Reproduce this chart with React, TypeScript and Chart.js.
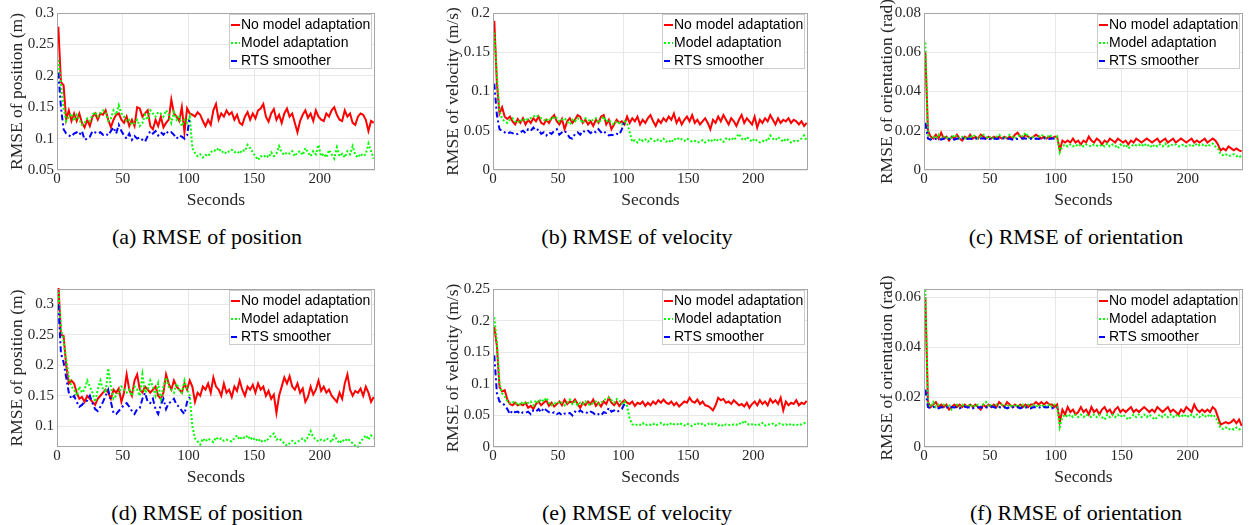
import { useEffect, useRef } from 'react';
import { Chart, registerables } from 'chart.js';

Chart.register(...registerables);

// ---------- DATA ----------
const T = [
  1, 3, 5, 7, 9, 11, 13, 15, 17, 19,
  21, 23, 25, 27, 29, 31, 33, 35, 37, 39,
  41, 43, 45, 47, 49, 51, 53, 55, 57, 59,
  61, 63, 65, 67, 69, 71, 73, 75, 77, 79,
  81, 83, 85, 87, 89, 91, 93, 95, 97, 99,
  101, 103, 105, 107, 109, 111, 113, 115, 117, 119,
  121, 123, 125, 127, 129, 131, 133, 135, 137, 139,
  141, 143, 145, 147, 149, 151, 153, 155, 157, 159,
  161, 163, 165, 167, 169, 171, 173, 175, 177, 179,
  181, 183, 185, 187, 189, 191, 193, 195, 197, 199,
  201, 203, 205, 207, 209, 211, 213, 215, 217, 219,
  221, 223, 225, 227, 229, 231, 233, 235, 237, 239,
  241,
];
const X_TICKS = [0, 50, 100, 150, 200];
const SERIES_LABELS = ['No model adaptation', 'Model adaptation', 'RTS smoother'];

// (a) position, run 1
const RED_A = [
  0.278, 0.19, 0.185, 0.13, 0.145, 0.128, 0.14, 0.128, 0.14, 0.125,
  0.118, 0.13, 0.12, 0.135, 0.14, 0.13, 0.14, 0.138, 0.145, 0.13,
  0.118, 0.13, 0.138, 0.14, 0.13, 0.125, 0.135, 0.12, 0.13, 0.12,
  0.15, 0.148, 0.135, 0.14, 0.145, 0.12, 0.115, 0.13, 0.12, 0.135,
  0.118, 0.125, 0.13, 0.162, 0.14, 0.135, 0.128, 0.15, 0.11, 0.148,
  0.14, 0.138, 0.135, 0.142, 0.138, 0.128, 0.12, 0.13, 0.122, 0.145,
  0.155, 0.13, 0.14, 0.135, 0.145, 0.138, 0.142, 0.13, 0.138, 0.125,
  0.122, 0.135, 0.142, 0.13, 0.14, 0.132, 0.145, 0.148, 0.155, 0.135,
  0.127, 0.14, 0.147, 0.13, 0.138, 0.125, 0.14, 0.148, 0.135, 0.14,
  0.125, 0.11, 0.128, 0.138, 0.145, 0.133, 0.14, 0.128, 0.145, 0.135,
  0.13, 0.128, 0.14, 0.135, 0.145, 0.15, 0.138, 0.13, 0.128, 0.145,
  0.135, 0.14, 0.125, 0.122, 0.135, 0.14, 0.138, 0.13, 0.112, 0.128,
  0.125,
];
const GREEN_A = [
  0.225, 0.185, 0.15, 0.128, 0.135, 0.14, 0.128, 0.138, 0.13, 0.122,
  0.125, 0.132, 0.128, 0.138, 0.142, 0.135, 0.14, 0.145, 0.142, 0.128,
  0.132, 0.145, 0.138, 0.153, 0.14, 0.135, 0.128, 0.13, 0.122, 0.125,
  0.13, 0.12, 0.125, 0.138, 0.13, 0.145, 0.14, 0.135, 0.142, 0.14,
  0.135, 0.145, 0.138, 0.125, 0.142, 0.13, 0.135, 0.12, 0.13, 0.125,
  0.135, 0.085, 0.077, 0.072, 0.075, 0.07, 0.074, 0.072, 0.078, 0.082,
  0.08, 0.085, 0.078, 0.08, 0.076, 0.08, 0.082, 0.078, 0.08, 0.076,
  0.082, 0.08, 0.09, 0.085, 0.078, 0.072, 0.066, 0.072, 0.07, 0.074,
  0.07, 0.078, 0.072, 0.076, 0.088, 0.078, 0.074, 0.078, 0.076, 0.08,
  0.072, 0.078, 0.08, 0.074, 0.085, 0.078, 0.072, 0.08, 0.075, 0.09,
  0.072, 0.076, 0.07, 0.082, 0.075, 0.068, 0.086, 0.072, 0.076, 0.07,
  0.08, 0.075, 0.088, 0.074, 0.07, 0.076, 0.072, 0.075, 0.092, 0.08,
  0.068,
];
const BLUE_A = [
  0.205, 0.15, 0.115, 0.108, 0.105, 0.103, 0.108, 0.11, 0.106, 0.112,
  0.098, 0.1, 0.103, 0.112, 0.11, 0.108, 0.11, 0.106, 0.108, 0.105,
  0.112, 0.118, 0.108, 0.122, 0.112, 0.105, 0.1, 0.108, 0.098, 0.104,
  0.1, 0.102, 0.098, 0.095, 0.104, 0.112, 0.108, 0.112, 0.105, 0.11,
  0.106, 0.112, 0.108, 0.11, 0.106, 0.1, 0.105, 0.103, 0.1, 0.105,
  0.135,
];

// (b) velocity, run 1
const RED_B = [
  0.19, 0.11, 0.072, 0.08, 0.068, 0.065, 0.068, 0.062, 0.058, 0.065,
  0.06, 0.066, 0.058, 0.064, 0.06, 0.066, 0.062, 0.068, 0.06, 0.058,
  0.064, 0.06, 0.066, 0.07, 0.062, 0.058, 0.065, 0.052, 0.062, 0.066,
  0.06, 0.064, 0.07, 0.068, 0.06, 0.064, 0.058, 0.062, 0.056, 0.064,
  0.06, 0.068, 0.07, 0.058, 0.064, 0.052, 0.058, 0.064, 0.06, 0.062,
  0.058, 0.068, 0.06, 0.066, 0.062, 0.068, 0.058, 0.064, 0.06, 0.066,
  0.07, 0.062, 0.056, 0.064, 0.06, 0.066, 0.062, 0.068, 0.064, 0.072,
  0.06, 0.066, 0.058, 0.064, 0.068, 0.062, 0.07, 0.06, 0.064, 0.058,
  0.062, 0.066, 0.06, 0.052, 0.064, 0.06, 0.068, 0.062, 0.07, 0.064,
  0.058, 0.066, 0.062, 0.056, 0.064, 0.07, 0.06, 0.066, 0.062, 0.058,
  0.068, 0.054, 0.064, 0.06, 0.066, 0.062, 0.07, 0.064, 0.058, 0.066,
  0.06, 0.064, 0.062, 0.066, 0.06, 0.064, 0.062, 0.058, 0.062, 0.056,
  0.06,
];
const GREEN_B = [
  0.175, 0.12, 0.075, 0.065, 0.062, 0.06, 0.064, 0.066, 0.062, 0.06,
  0.064, 0.062, 0.066, 0.064, 0.066, 0.068, 0.07, 0.068, 0.066, 0.064,
  0.062, 0.066, 0.064, 0.068, 0.066, 0.062, 0.064, 0.066, 0.062, 0.058,
  0.064, 0.062, 0.066, 0.064, 0.06, 0.066, 0.064, 0.062, 0.064, 0.066,
  0.06, 0.064, 0.068, 0.062, 0.064, 0.06, 0.058, 0.062, 0.06, 0.058,
  0.062, 0.06, 0.048, 0.036, 0.038, 0.035, 0.04, 0.037, 0.039, 0.036,
  0.04, 0.038, 0.036, 0.039, 0.037, 0.04, 0.036, 0.038, 0.035, 0.04,
  0.038, 0.041, 0.039, 0.037, 0.04, 0.038, 0.036, 0.037, 0.035, 0.036,
  0.038, 0.035, 0.037, 0.039, 0.036, 0.04, 0.037, 0.039, 0.036, 0.04,
  0.038, 0.041, 0.038, 0.042, 0.046, 0.04, 0.038, 0.042, 0.039, 0.036,
  0.04, 0.037, 0.035, 0.036, 0.039, 0.037, 0.044, 0.04, 0.038, 0.042,
  0.039, 0.036, 0.04, 0.038, 0.035, 0.037, 0.036, 0.038, 0.04, 0.044,
  0.037,
];
const BLUE_B = [
  0.11, 0.07, 0.052, 0.05, 0.048, 0.046, 0.048, 0.047, 0.045, 0.046,
  0.048, 0.05, 0.047, 0.052, 0.05, 0.054, 0.05, 0.052, 0.046, 0.048,
  0.044, 0.048, 0.046, 0.05, 0.052, 0.045, 0.048, 0.05, 0.046, 0.041,
  0.04, 0.046, 0.048, 0.045, 0.05, 0.048, 0.05, 0.047, 0.05, 0.048,
  0.052, 0.048, 0.05, 0.046, 0.044, 0.045, 0.044, 0.046, 0.045, 0.052,
  0.062,
];

// (c) orientation, run 1
const RED_C = [
  0.06, 0.02, 0.017, 0.016, 0.018, 0.016, 0.019, 0.016, 0.017, 0.015,
  0.017, 0.016, 0.018, 0.016, 0.015, 0.017, 0.016, 0.018, 0.016, 0.017,
  0.016, 0.018, 0.017, 0.016, 0.017, 0.016, 0.017, 0.016, 0.017, 0.016,
  0.017, 0.016, 0.017, 0.016, 0.018, 0.019, 0.017, 0.016, 0.018, 0.017,
  0.016, 0.017, 0.018, 0.017, 0.016, 0.017, 0.016, 0.017, 0.016, 0.017,
  0.017, 0.01, 0.015, 0.014, 0.015, 0.014, 0.016, 0.014, 0.015, 0.013,
  0.015, 0.014, 0.017, 0.015, 0.014, 0.016, 0.015, 0.013, 0.015, 0.014,
  0.016, 0.015, 0.014, 0.016, 0.015, 0.014, 0.015, 0.013, 0.015, 0.014,
  0.016, 0.015, 0.014, 0.015, 0.016, 0.015, 0.014, 0.015, 0.016, 0.014,
  0.015, 0.016, 0.014, 0.015, 0.016, 0.014, 0.015, 0.016, 0.015, 0.014,
  0.015, 0.016, 0.014, 0.015, 0.014, 0.015, 0.016, 0.014, 0.015, 0.016,
  0.015, 0.013, 0.01, 0.011, 0.01, 0.012, 0.011, 0.01, 0.011, 0.01,
  0.0095,
];
const GREEN_C = [
  0.065, 0.018, 0.016, 0.017, 0.016, 0.018, 0.016, 0.017, 0.016, 0.017,
  0.016, 0.018, 0.017, 0.016, 0.017, 0.016, 0.017, 0.016, 0.018, 0.017,
  0.016, 0.017, 0.018, 0.017, 0.016, 0.017, 0.016, 0.017, 0.018, 0.017,
  0.016, 0.017, 0.018, 0.017, 0.016, 0.017, 0.018, 0.017, 0.019, 0.017,
  0.016, 0.017, 0.016, 0.017, 0.018, 0.017, 0.016, 0.018, 0.017, 0.016,
  0.017, 0.009, 0.012, 0.013, 0.012, 0.013, 0.012, 0.013, 0.012, 0.013,
  0.012, 0.013, 0.0125, 0.012, 0.013, 0.0125, 0.012, 0.013, 0.012, 0.0135,
  0.012, 0.013, 0.0125, 0.011, 0.013, 0.012, 0.013, 0.011, 0.012, 0.013,
  0.0125, 0.013, 0.012, 0.0135, 0.012, 0.013, 0.0115, 0.013, 0.012, 0.013,
  0.012, 0.0135, 0.012, 0.013, 0.0125, 0.013, 0.012, 0.0125, 0.013, 0.012,
  0.0125, 0.013, 0.012, 0.0135, 0.0125, 0.013, 0.012, 0.013, 0.0125, 0.0135,
  0.012, 0.011, 0.008, 0.0075, 0.008, 0.007, 0.0075, 0.008, 0.007, 0.0075,
  0.006,
];
const BLUE_C = [
  0.024, 0.016, 0.0155, 0.016, 0.0158, 0.016, 0.0155, 0.016, 0.0162, 0.0158,
  0.016, 0.0155, 0.016, 0.0158, 0.016, 0.0162, 0.0158, 0.016, 0.0155, 0.016,
  0.0158, 0.016, 0.0162, 0.0158, 0.016, 0.0155, 0.016, 0.0158, 0.016, 0.0162,
  0.016, 0.0158, 0.016, 0.0155, 0.016, 0.0158, 0.016, 0.0162, 0.016, 0.0158,
  0.016, 0.0155, 0.016, 0.0158, 0.016, 0.0162, 0.016, 0.0158, 0.016, 0.016,
  0.016,
];

// (d) position, run 2
const RED_D = [
  0.335, 0.25, 0.248, 0.2, 0.17, 0.175, 0.17, 0.155, 0.145, 0.148,
  0.14, 0.15, 0.145, 0.14, 0.135, 0.145, 0.15, 0.155, 0.16, 0.155,
  0.145, 0.16, 0.155, 0.162, 0.14, 0.155, 0.185, 0.16, 0.15, 0.175,
  0.185, 0.16, 0.155, 0.165, 0.16, 0.155, 0.16, 0.165, 0.15, 0.145,
  0.155, 0.185, 0.17, 0.16, 0.175, 0.165, 0.16, 0.155, 0.17, 0.16,
  0.175, 0.165, 0.14, 0.155, 0.15, 0.165, 0.16, 0.17, 0.155, 0.18,
  0.165, 0.16, 0.15, 0.17, 0.155, 0.16, 0.148, 0.165, 0.158, 0.175,
  0.16, 0.15, 0.165, 0.16, 0.168, 0.155, 0.17, 0.16, 0.165, 0.15,
  0.158, 0.145, 0.152, 0.122, 0.15, 0.165, 0.18, 0.17, 0.182, 0.165,
  0.16, 0.17, 0.155, 0.162, 0.14, 0.148, 0.165, 0.152, 0.16, 0.175,
  0.158, 0.165, 0.155, 0.16, 0.15, 0.145, 0.14, 0.155, 0.145, 0.17,
  0.185, 0.16, 0.15, 0.158, 0.155, 0.162, 0.15, 0.165, 0.155, 0.14,
  0.148,
];
const GREEN_D = [
  0.32, 0.26, 0.24, 0.21, 0.18, 0.165, 0.16, 0.15, 0.165, 0.155,
  0.16, 0.175, 0.165, 0.155, 0.14, 0.16, 0.175, 0.16, 0.155, 0.195,
  0.165, 0.145, 0.15, 0.155, 0.165, 0.16, 0.155, 0.16, 0.15, 0.165,
  0.16, 0.15, 0.185, 0.155, 0.16, 0.175, 0.165, 0.15, 0.17, 0.145,
  0.165, 0.18, 0.165, 0.16, 0.155, 0.17, 0.16, 0.155, 0.175, 0.16,
  0.15, 0.1, 0.08, 0.075, 0.07, 0.08, 0.075, 0.08, 0.077, 0.074,
  0.082, 0.078, 0.08, 0.076, 0.078, 0.076, 0.075, 0.08, 0.085, 0.078,
  0.083, 0.08, 0.085, 0.078, 0.082, 0.076, 0.08, 0.074, 0.078, 0.075,
  0.08, 0.085, 0.088, 0.078, 0.08, 0.076, 0.072, 0.068, 0.072, 0.076,
  0.072, 0.074, 0.078, 0.08, 0.076, 0.082, 0.092, 0.082, 0.078, 0.075,
  0.078, 0.076, 0.08, 0.078, 0.074, 0.085, 0.078, 0.072, 0.078, 0.075,
  0.08, 0.076, 0.072, 0.068, 0.066, 0.075, 0.08, 0.085, 0.078, 0.085,
  0.08,
];
const BLUE_D = [
  0.3, 0.22, 0.205, 0.18, 0.155, 0.145, 0.15, 0.14, 0.132, 0.135,
  0.14, 0.142, 0.15, 0.138, 0.128, 0.125, 0.132, 0.14, 0.15, 0.16,
  0.14, 0.122, 0.12, 0.125, 0.13, 0.135, 0.138, 0.132, 0.125, 0.12,
  0.128, 0.13, 0.145, 0.155, 0.14, 0.138, 0.145, 0.128, 0.12, 0.135,
  0.145, 0.128, 0.138, 0.14, 0.145, 0.135, 0.132, 0.125, 0.12, 0.14,
  0.148,
];

// (e) velocity, run 2
const RED_E = [
  0.19, 0.16, 0.095, 0.088, 0.09, 0.075, 0.068, 0.066, 0.07, 0.066,
  0.068, 0.066, 0.07, 0.062, 0.065, 0.06, 0.068, 0.072, 0.066, 0.07,
  0.074, 0.065, 0.07, 0.064, 0.068, 0.072, 0.066, 0.075, 0.068, 0.072,
  0.07, 0.075, 0.068, 0.062, 0.07, 0.066, 0.072, 0.068, 0.075, 0.065,
  0.07, 0.064, 0.072, 0.068, 0.078, 0.07, 0.066, 0.072, 0.065, 0.07,
  0.074, 0.07, 0.068, 0.072, 0.065, 0.07, 0.068, 0.072, 0.065, 0.07,
  0.066, 0.072, 0.068, 0.074, 0.07, 0.075, 0.07, 0.068, 0.072, 0.066,
  0.07, 0.064, 0.068, 0.072, 0.07, 0.078, 0.072, 0.07, 0.075, 0.068,
  0.072, 0.066, 0.065, 0.062, 0.058, 0.066, 0.078, 0.074, 0.076, 0.07,
  0.072, 0.068, 0.074, 0.07, 0.066, 0.068, 0.064, 0.07, 0.062, 0.068,
  0.072, 0.066, 0.074, 0.068, 0.072, 0.066, 0.076, 0.07, 0.074, 0.068,
  0.078, 0.058, 0.072, 0.066, 0.07, 0.068, 0.074, 0.066, 0.07, 0.068,
  0.073,
];
const GREEN_E = [
  0.205, 0.165, 0.1, 0.085, 0.08, 0.072, 0.07, 0.072, 0.068, 0.07,
  0.066, 0.072, 0.068, 0.07, 0.072, 0.066, 0.074, 0.07, 0.076, 0.072,
  0.078, 0.07, 0.066, 0.07, 0.068, 0.072, 0.07, 0.066, 0.07, 0.075,
  0.068, 0.072, 0.066, 0.07, 0.068, 0.072, 0.068, 0.066, 0.07, 0.072,
  0.068, 0.07, 0.074, 0.076, 0.078, 0.074, 0.07, 0.076, 0.074, 0.068,
  0.072, 0.065, 0.045, 0.036, 0.034, 0.036, 0.035, 0.038, 0.034, 0.036,
  0.035, 0.037, 0.034, 0.036, 0.038, 0.035, 0.037, 0.034, 0.038, 0.036,
  0.035, 0.038, 0.036, 0.034, 0.037, 0.035, 0.033, 0.036, 0.038, 0.035,
  0.037, 0.034, 0.036, 0.038, 0.035, 0.037, 0.034, 0.036, 0.033, 0.036,
  0.035, 0.034, 0.036, 0.035, 0.038, 0.036, 0.042, 0.037, 0.035, 0.036,
  0.034, 0.037, 0.035, 0.038, 0.034, 0.036, 0.035, 0.037, 0.034, 0.036,
  0.038, 0.035, 0.036, 0.034, 0.037, 0.035, 0.036, 0.034, 0.036, 0.038,
  0.036,
];
const BLUE_E = [
  0.145, 0.085, 0.072, 0.07, 0.066, 0.06, 0.052, 0.058, 0.055, 0.056,
  0.052, 0.055, 0.054, 0.056, 0.052, 0.058, 0.056, 0.06, 0.055, 0.062,
  0.058, 0.055, 0.053, 0.055, 0.052, 0.054, 0.05, 0.053, 0.052, 0.054,
  0.05, 0.056, 0.054, 0.058, 0.055, 0.056, 0.053, 0.056, 0.054, 0.05,
  0.052, 0.05, 0.055, 0.054, 0.062, 0.056, 0.058, 0.055, 0.058, 0.06,
  0.068,
];

// (f) orientation, run 2
const RED_F = [
  0.06, 0.018, 0.016, 0.017, 0.018, 0.016, 0.017, 0.016, 0.017, 0.015,
  0.016, 0.017, 0.016, 0.017, 0.016, 0.017, 0.016, 0.017, 0.016, 0.017,
  0.016, 0.015, 0.017, 0.016, 0.017, 0.016, 0.017, 0.016, 0.018, 0.017,
  0.016, 0.018, 0.017, 0.016, 0.017, 0.016, 0.017, 0.016, 0.017, 0.016,
  0.017, 0.017, 0.018, 0.017, 0.018, 0.017, 0.018, 0.017, 0.017, 0.016,
  0.017, 0.01, 0.015, 0.013, 0.016, 0.014, 0.015, 0.013, 0.014, 0.016,
  0.014, 0.015, 0.013, 0.016, 0.014, 0.015, 0.013, 0.015, 0.016, 0.014,
  0.015, 0.013, 0.015, 0.016, 0.014, 0.015, 0.014, 0.015, 0.016, 0.014,
  0.015, 0.014, 0.015, 0.016, 0.015, 0.014, 0.015, 0.014, 0.016, 0.015,
  0.014, 0.015, 0.016, 0.014, 0.015, 0.014, 0.013, 0.015, 0.014, 0.016,
  0.015, 0.014, 0.017, 0.015, 0.014, 0.015, 0.014, 0.015, 0.014, 0.016,
  0.015, 0.012, 0.009, 0.0095, 0.01, 0.0095, 0.01, 0.011, 0.0095, 0.011,
  0.0085,
];
const GREEN_F = [
  0.063, 0.017, 0.016, 0.018, 0.016, 0.017, 0.016, 0.017, 0.016, 0.017,
  0.015, 0.016, 0.017, 0.016, 0.017, 0.016, 0.017, 0.016, 0.017, 0.016,
  0.017, 0.016, 0.017, 0.018, 0.016, 0.017, 0.016, 0.017, 0.016, 0.017,
  0.016, 0.017, 0.016, 0.017, 0.016, 0.017, 0.016, 0.017, 0.016, 0.017,
  0.016, 0.017, 0.016, 0.017, 0.016, 0.017, 0.016, 0.017, 0.016, 0.017,
  0.016, 0.008, 0.012, 0.013, 0.012, 0.013, 0.012, 0.013, 0.012, 0.013,
  0.012, 0.013, 0.0125, 0.012, 0.013, 0.012, 0.013, 0.012, 0.011, 0.013,
  0.012, 0.013, 0.012, 0.013, 0.012, 0.013, 0.012, 0.011, 0.012, 0.013,
  0.012, 0.013, 0.012, 0.013, 0.012, 0.013, 0.012, 0.011, 0.012, 0.013,
  0.012, 0.013, 0.012, 0.013, 0.012, 0.013, 0.012, 0.013, 0.012, 0.013,
  0.012, 0.013, 0.012, 0.013, 0.012, 0.013, 0.012, 0.013, 0.012, 0.013,
  0.012, 0.01, 0.0075, 0.0072, 0.0078, 0.007, 0.0075, 0.007, 0.0078, 0.007,
  0.0075,
];
const BLUE_F = [
  0.023, 0.016, 0.0155, 0.016, 0.0158, 0.0155, 0.016, 0.0158, 0.016, 0.0155,
  0.016, 0.0158, 0.016, 0.0155, 0.016, 0.0162, 0.0158, 0.016, 0.0155, 0.016,
  0.0158, 0.016, 0.0155, 0.0158, 0.016, 0.0162, 0.016, 0.0155, 0.016, 0.0158,
  0.016, 0.0155, 0.016, 0.0158, 0.0162, 0.016, 0.0155, 0.016, 0.0158, 0.016,
  0.0155, 0.016, 0.0158, 0.016, 0.0155, 0.016, 0.0158, 0.016, 0.0155, 0.016,
  0.0158,
];

const Y_TICKS_A = [0.05, 0.1, 0.15, 0.2, 0.25, 0.3];
const Y_TICKS_B = [0, 0.05, 0.1, 0.15, 0.2];
const Y_TICKS_C = [0, 0.02, 0.04, 0.06, 0.08];
const Y_TICKS_D = [0.1, 0.15, 0.2, 0.25, 0.3];
const Y_TICKS_E = [0, 0.05, 0.1, 0.15, 0.2, 0.25];
const Y_TICKS_F = [0, 0.02, 0.04, 0.06];

// ---------- LAYOUT ----------
const PANELS = [
  { id: 'a', red: RED_A, green: GREEN_A, blue: BLUE_A, yMin: 0.05, yMax: 0.3, yTicks: Y_TICKS_A,
    yTitle: 'RMSE of position (m)', caption: '(a) RMSE of position',
    plot: { l: 57, t: 13, r: 375, b: 170 }, canvasLeft: 0, titleDist: 40, captionX: 207, captionY: 237 },
  { id: 'b', red: RED_B, green: GREEN_B, blue: BLUE_B, yMin: 0, yMax: 0.2, yTicks: Y_TICKS_B,
    yTitle: 'RMSE of velocity (m/s)', caption: '(b) RMSE of velocity',
    plot: { l: 493, t: 13, r: 808, b: 170 }, canvasLeft: 433, titleDist: 40, captionX: 637, captionY: 237 },
  { id: 'c', red: RED_C, green: GREEN_C, blue: BLUE_C, yMin: 0, yMax: 0.08, yTicks: Y_TICKS_C,
    yTitle: 'RMSE of orientation (rad)', caption: '(c) RMSE of orientation',
    plot: { l: 924, t: 13, r: 1243, b: 170 }, canvasLeft: 864, titleDist: 37, captionX: 1076, captionY: 237 },
  { id: 'd', red: RED_D, green: GREEN_D, blue: BLUE_D, yMin: 0.066, yMax: 0.325, yTicks: Y_TICKS_D,
    yTitle: 'RMSE of position (m)', caption: '(d) RMSE of position',
    plot: { l: 57, t: 289, r: 375, b: 447 }, canvasLeft: 0, titleDist: 40, captionX: 207, captionY: 513 },
  { id: 'e', red: RED_E, green: GREEN_E, blue: BLUE_E, yMin: 0, yMax: 0.25, yTicks: Y_TICKS_E,
    yTitle: 'RMSE of velocity (m/s)', caption: '(e) RMSE of velocity',
    plot: { l: 493, t: 289, r: 808, b: 447 }, canvasLeft: 433, titleDist: 40, captionX: 637, captionY: 513 },
  { id: 'f', red: RED_F, green: GREEN_F, blue: BLUE_F, yMin: 0, yMax: 0.0633, yTicks: Y_TICKS_F,
    yTitle: 'RMSE of orientation (rad)', caption: '(f) RMSE of orientation',
    plot: { l: 924, t: 289, r: 1243, b: 447 }, canvasLeft: 864, titleDist: 37, captionX: 1076, captionY: 513 },
];

const SERIF = '"Liberation Serif", "Times New Roman", serif';
const SANS = '"Liberation Sans", Arial, sans-serif';
const TEXT_COLOR = '#262626';
const GRID_COLOR = '#e8e8e8';
const PAD_TOP = 13;
const X_AXIS_H = 40;
const PAD_RIGHT = 7;
const TICK_SIZE = 15;
const TITLE_SIZE = 17.5;

const framePlugin = {
  id: 'frame',
  afterDatasetsDraw(chart: any) {
    const { ctx, chartArea } = chart;
    ctx.save();
    ctx.strokeStyle = '#a6a6a6';
    ctx.lineWidth = 1;
    ctx.strokeRect(chartArea.left + 0.5, chartArea.top + 0.5,
      chartArea.right - chartArea.left - 1, chartArea.bottom - chartArea.top - 1);
    ctx.restore();
  },
};

const boxLegendPlugin = {
  id: 'boxLegend',
  afterDraw(chart: any) {
    const { ctx, chartArea } = chart;
    const w = 143;
    const h = 55;
    const x0 = Math.round(chartArea.right - 3 - w);
    const y0 = Math.round(chartArea.top + 1);
    ctx.save();
    ctx.fillStyle = '#ffffff';
    ctx.fillRect(x0, y0, w, h);
    ctx.strokeStyle = '#cccccc';
    ctx.lineWidth = 1;
    ctx.strokeRect(x0 + 0.5, y0 + 0.5, w - 1, h - 1);
    ctx.font = `14px ${SANS}`;
    ctx.textBaseline = 'middle';
    ctx.textAlign = 'left';
    chart.data.datasets.forEach((ds: any, i: number) => {
      const y = y0 + 11 + i * 18;
      ctx.strokeStyle = ds.borderColor;
      ctx.lineWidth = 2;
      ctx.setLineDash(ds.borderDash || []);
      ctx.beginPath();
      ctx.moveTo(x0 + 2, y);
      ctx.lineTo(x0 + 11, y);
      ctx.stroke();
      ctx.setLineDash([]);
      ctx.fillStyle = '#000000';
      ctx.fillText(ds.label, x0 + 12, y + 0.5);
    });
    ctx.restore();
  },
};

const fmt = (v: number) => String(Math.round(v * 10000) / 10000);

function Panel({ p }: { p: any }) {
  const ref = useRef<HTMLCanvasElement | null>(null);
  const axisW = p.plot.l - p.canvasLeft;
  const W = axisW + (p.plot.r - p.plot.l) + PAD_RIGHT;
  const H = PAD_TOP + (p.plot.b - p.plot.t) + X_AXIS_H;

  useEffect(() => {
    if (!ref.current) return;
    const chart = new Chart(ref.current, {
      type: 'line',
      data: {
        labels: T,
        datasets: [
          { label: SERIES_LABELS[0], data: p.red, borderColor: '#ff0000', borderWidth: 2,
            pointRadius: 0, tension: 0, fill: false, order: 3, clip: 1 },
          { label: SERIES_LABELS[1], data: p.green, borderColor: '#00ff00', borderWidth: 2,
            borderDash: [2, 2], pointRadius: 0, tension: 0, fill: false, order: 2, clip: 1 },
          { label: SERIES_LABELS[2], data: p.blue, borderColor: '#0000ff', borderWidth: 2,
            borderDash: [6, 3, 2, 3], pointRadius: 0, tension: 0, fill: false, order: 1, clip: 1 },
        ],
      } as any,
      options: {
        animation: false,
        responsive: false,
        devicePixelRatio: 1,
        events: [],
        layout: { padding: { top: PAD_TOP, right: PAD_RIGHT, left: 0, bottom: 0 } },
        plugins: { legend: { display: false }, tooltip: { enabled: false }, title: { display: false } },
        scales: {
          x: {
            type: 'linear',
            min: 0,
            max: 242,
            afterBuildTicks: (s: any) => { s.ticks = X_TICKS.map((v) => ({ value: v })); },
            afterFit: (s: any) => { s.height = X_AXIS_H; },
            grid: { color: GRID_COLOR, drawTicks: false, lineWidth: 1 },
            border: { display: false },
            ticks: { autoSkip: false, maxRotation: 0, padding: 1, color: TEXT_COLOR,
              font: { family: SERIF, size: TICK_SIZE, lineHeight: 1.1 }, callback: (v: any) => fmt(Number(v)) },
            title: { display: true, text: 'Seconds', color: TEXT_COLOR,
              font: { family: SERIF, size: TITLE_SIZE, lineHeight: 1 }, padding: { top: 0, bottom: 1 } },
          },
          y: {
            type: 'linear',
            min: p.yMin,
            max: p.yMax,
            afterBuildTicks: (s: any) => { s.ticks = p.yTicks.map((v: number) => ({ value: v })); },
            afterFit: (s: any) => { s.width = axisW; },
            grid: { color: GRID_COLOR, drawTicks: false, lineWidth: 1 },
            border: { display: false },
            ticks: { autoSkip: false, padding: 3, color: TEXT_COLOR,
              font: { family: SERIF, size: TICK_SIZE }, callback: (v: any) => fmt(Number(v)) },
            title: { display: true, text: p.yTitle, color: TEXT_COLOR,
              font: { family: SERIF, size: TITLE_SIZE, lineHeight: 1 },
              padding: { top: axisW - p.titleDist - TITLE_SIZE / 2, bottom: 0 } },
          },
        },
      } as any,
      plugins: [framePlugin, boxLegendPlugin],
    });
    return () => chart.destroy();
  }, []);

  return (
    <>
      <canvas
        ref={ref}
        width={W}
        height={H}
        style={{ position: 'absolute', left: p.canvasLeft, top: p.plot.t - PAD_TOP, width: W, height: H }}
      />
      <div
        style={{
          position: 'absolute', left: p.captionX - 200, width: 400, top: p.captionY - 12,
          lineHeight: '24px', height: 24, textAlign: 'center', whiteSpace: 'nowrap',
          fontFamily: SERIF, fontSize: 22, color: '#000',
        }}
      >
        {p.caption}
      </div>
    </>
  );
}

export default function App() {
  return (
    <div
      style={{
        position: 'fixed', left: 0, top: 0, width: 1250, height: 525,
        background: '#ffffff', overflow: 'hidden',
      }}
    >
      {PANELS.map((p) => <Panel key={p.id} p={p} />)}
    </div>
  );
}
